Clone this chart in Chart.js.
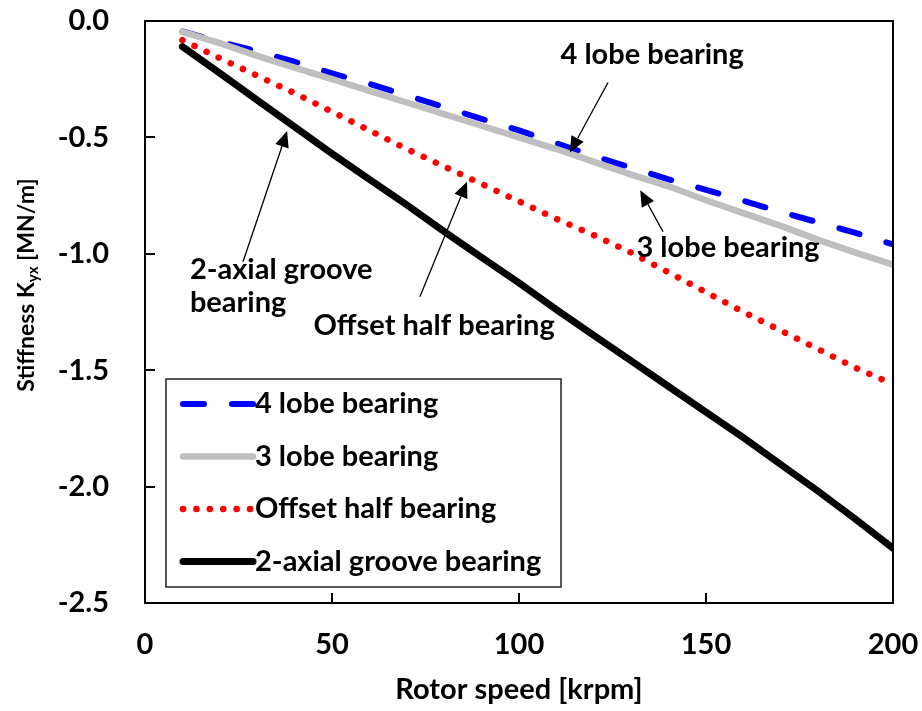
<!DOCTYPE html>
<html>
<head>
<meta charset="utf-8">
<script src="https://cdn.jsdelivr.net/npm/chart.js@4.4.1/dist/chart.umd.min.js"></script>
<style>
  html, body { margin: 0; padding: 0; background: #ffffff; }
  #wrap { width: 922px; height: 711px; position: relative; }
</style>
</head>
<body>
<div id="wrap"><canvas id="c" width="922" height="711"></canvas></div>
<script>
// Rotor speed [krpm]
const speeds = [10, 20, 30, 40, 50, 60, 70, 80, 90, 100, 110, 120, 130, 140, 150, 160, 170, 180, 190, 200];

// Cross-coupled stiffness Kyx [MN/m] per bearing type
const fourLobe   = [-0.045, -0.09, -0.13, -0.175, -0.225, -0.27, -0.32, -0.37, -0.42, -0.47, -0.525, -0.58, -0.63, -0.68, -0.725, -0.772, -0.82, -0.865, -0.91, -0.96];
const threeLobe  = [-0.047, -0.095, -0.15, -0.20, -0.25, -0.30, -0.35, -0.40, -0.45, -0.50, -0.55, -0.605, -0.66, -0.71, -0.77, -0.825, -0.88, -0.94, -0.995, -1.047];
const offsetHalf = [-0.082, -0.16, -0.235, -0.31, -0.39, -0.47, -0.55, -0.625, -0.70, -0.775, -0.85, -0.92, -0.995, -1.08, -1.165, -1.25, -1.33, -1.41, -1.49, -1.56];
const twoAxial   = [-0.11, -0.224, -0.34, -0.455, -0.57, -0.68, -0.79, -0.905, -1.015, -1.125, -1.24, -1.35, -1.46, -1.57, -1.68, -1.79, -1.905, -2.02, -2.14, -2.265];

const seriesNames = ['4 lobe bearing', '3 lobe bearing', 'Offset half bearing', '2-axial groove bearing'];

// Axis ticks
const xTicks = [0, 50, 100, 150, 200];
const yTicks = [0, -0.5, -1.0, -1.5, -2.0, -2.5];

// Callout labels and arrows, placed in data units (krpm, MN/m)
const calloutTexts = [
  { lines: ['4 lobe bearing'], at: [135.6, -0.143], align: 'center' },
  { lines: ['3 lobe bearing'], at: [155.9, -0.975], align: 'center' },
  { lines: ['2-axial groove', 'bearing'], at: [12.0, -1.068], align: 'left' },
  { lines: ['Offset half bearing'], at: [77.3, -1.307], align: 'center' }
];
const calloutArrows = [
  { from: [123.8, -0.264], to: [113.6, -0.565] },
  { from: [138.5, -0.905], to: [132.4, -0.727] },
  { from: [26.2, -1.034], to: [38.0, -0.473] },
  { from: [73.5, -1.184], to: [86.1, -0.69] }
];

const FONT = 'Lato, "Open Sans", sans-serif';
const pts = (ys) => speeds.map((x, i) => ({ x: x, y: ys[i] }));

const datasets = [
  { label: seriesNames[0], data: pts(fourLobe), borderColor: '#0000ff', borderWidth: 6,
    borderDash: [21, 28], borderCapStyle: 'round', order: 3 },
  { label: seriesNames[1], data: pts(threeLobe), borderColor: '#bfbfbf', borderWidth: 6.5,
    borderCapStyle: 'round', order: 2 },
  { label: seriesNames[2], data: pts(offsetHalf), borderColor: '#ff0000', borderWidth: 6.5,
    borderDash: [0.1, 13.3], borderCapStyle: 'round', order: 1 },
  { label: seriesNames[3], data: pts(twoAxial), borderColor: '#000000', borderWidth: 7,
    borderCapStyle: 'round', order: 0 }
];
datasets.forEach(d => { d.pointRadius = 0; d.tension = 0; d.fill = false; d.borderJoinStyle = 'round'; });

// Frame, inward tick marks, axis titles
const framePlugin = {
  id: 'frame',
  afterDraw(chart) {
    const { ctx, chartArea: a, scales } = chart;
    ctx.save();
    ctx.strokeStyle = '#000';
    ctx.lineWidth = 2;
    ctx.strokeRect(a.left, a.top, a.right - a.left, a.bottom - a.top);
    ctx.beginPath();
    yTicks.forEach(v => {
      const y = Math.round(scales.y.getPixelForValue(v));
      ctx.moveTo(a.left, y); ctx.lineTo(a.left + 10, y);
    });
    xTicks.forEach(v => {
      const x = Math.round(scales.x.getPixelForValue(v));
      ctx.moveTo(x, a.bottom); ctx.lineTo(x, a.bottom - 10);
    });
    ctx.stroke();

    ctx.fillStyle = '#000';
    ctx.textBaseline = 'middle';
    // x title
    ctx.font = 'bold 29px ' + FONT;
    ctx.textAlign = 'center';
    ctx.fillText('Rotor speed [krpm]', (a.left + a.right) / 2, 690);
    // y title with subscript
    ctx.translate(27, 285);
    ctx.rotate(-Math.PI / 2);
    const big = 'bold 23px ' + FONT, small = 'bold 15px ' + FONT;
    const p1 = 'Stiffness K', p2 = 'yx', p3 = ' [MN/m]';
    ctx.font = big; const w1 = ctx.measureText(p1).width, w3 = ctx.measureText(p3).width;
    ctx.font = small; const w2 = ctx.measureText(p2).width;
    const x0 = -(w1 + w2 + w3) / 2;
    ctx.textAlign = 'left';
    ctx.font = big; ctx.fillText(p1, x0, 0);
    ctx.font = small; ctx.fillText(p2, x0 + w1, 6);
    ctx.font = big; ctx.fillText(p3, x0 + w1 + w2, 0);
    ctx.restore();
  }
};

// Callouts and boxed legend
const notesPlugin = {
  id: 'notes',
  afterDatasetsDraw(chart) {
    const { ctx, scales, chartArea: a } = chart;
    const px = (p) => [scales.x.getPixelForValue(p[0]), scales.y.getPixelForValue(p[1])];
    ctx.save();
    ctx.fillStyle = '#000';
    ctx.strokeStyle = '#000';
    ctx.font = 'bold 29px ' + FONT;
    ctx.textBaseline = 'middle';
    calloutTexts.forEach(t => {
      const [x, y] = px(t.at);
      ctx.textAlign = t.align;
      t.lines.forEach((s, i) => ctx.fillText(s, x, y + i * 33));
    });
    calloutArrows.forEach(ar => {
      const [x1, y1] = px(ar.from), [x2, y2] = px(ar.to);
      const ang = Math.atan2(y2 - y1, x2 - x1);
      const hl = 16, hw = 7;
      const bx = x2 - hl * Math.cos(ang), by = y2 - hl * Math.sin(ang);
      ctx.lineWidth = 1.3;
      ctx.beginPath(); ctx.moveTo(x1, y1); ctx.lineTo(bx, by); ctx.stroke();
      ctx.beginPath();
      ctx.moveTo(x2, y2);
      ctx.lineTo(bx + hw * Math.sin(ang), by - hw * Math.cos(ang));
      ctx.lineTo(bx - hw * Math.sin(ang), by + hw * Math.cos(ang));
      ctx.closePath(); ctx.fill();
    });

    // legend box
    const lx = a.left + 21, ly = a.top + 358, lw = 395, lh = 208;
    ctx.fillStyle = '#fff';
    ctx.fillRect(lx, ly, lw, lh);
    ctx.strokeStyle = '#222';
    ctx.lineWidth = 1.5;
    ctx.strokeRect(lx, ly, lw, lh);
    chart.data.datasets.forEach((d, i) => {
      const y = ly + 25 + i * 52.5;
      ctx.save();
      ctx.strokeStyle = d.borderColor;
      ctx.lineWidth = d.borderWidth;
      ctx.lineCap = 'round';
      ctx.setLineDash(d.borderDash || []);
      ctx.beginPath(); ctx.moveTo(lx + 17, y); ctx.lineTo(lx + 87, y); ctx.stroke();
      ctx.restore();
      ctx.fillStyle = '#000';
      ctx.textAlign = 'left';
      ctx.fillText(d.label, lx + 89, y);
    });
    ctx.restore();
  }
};

// keep the plot box fixed: no extra room reserved for label overflow
const noOverflow = s => { s.paddingTop = 0; s.paddingBottom = 0; s.paddingLeft = 0; s.paddingRight = 0; };

new Chart(document.getElementById('c'), {
  type: 'line',
  data: { datasets: datasets },
  options: {
    responsive: false,
    animation: false,
    devicePixelRatio: 1,
    layout: { padding: { left: 0, right: 29, top: 21, bottom: 0 } },
    plugins: { legend: { display: false }, tooltip: { enabled: false } },
    scales: {
      x: {
        type: 'linear', min: 0, max: 200,
        afterBuildTicks: s => { s.ticks = xTicks.map(v => ({ value: v })); },
        afterFit: s => { s.height = 108; noOverflow(s); },
        grid: { display: false, drawTicks: false },
        border: { display: false },
        ticks: { color: '#000', padding: 24, maxRotation: 0, font: { family: FONT, size: 29, weight: 'bold' } }
      },
      y: {
        type: 'linear', min: -2.5, max: 0,
        afterBuildTicks: s => { s.ticks = yTicks.map(v => ({ value: v })); },
        afterFit: s => { s.width = 145; noOverflow(s); },
        grid: { display: false, drawTicks: false },
        border: { display: false },
        ticks: { color: '#000', padding: 36, callback: v => v.toFixed(1),
                 font: { family: FONT, size: 29, weight: 'bold' } }
      }
    }
  },
  plugins: [framePlugin, notesPlugin]
});
</script>
</body>
</html>
